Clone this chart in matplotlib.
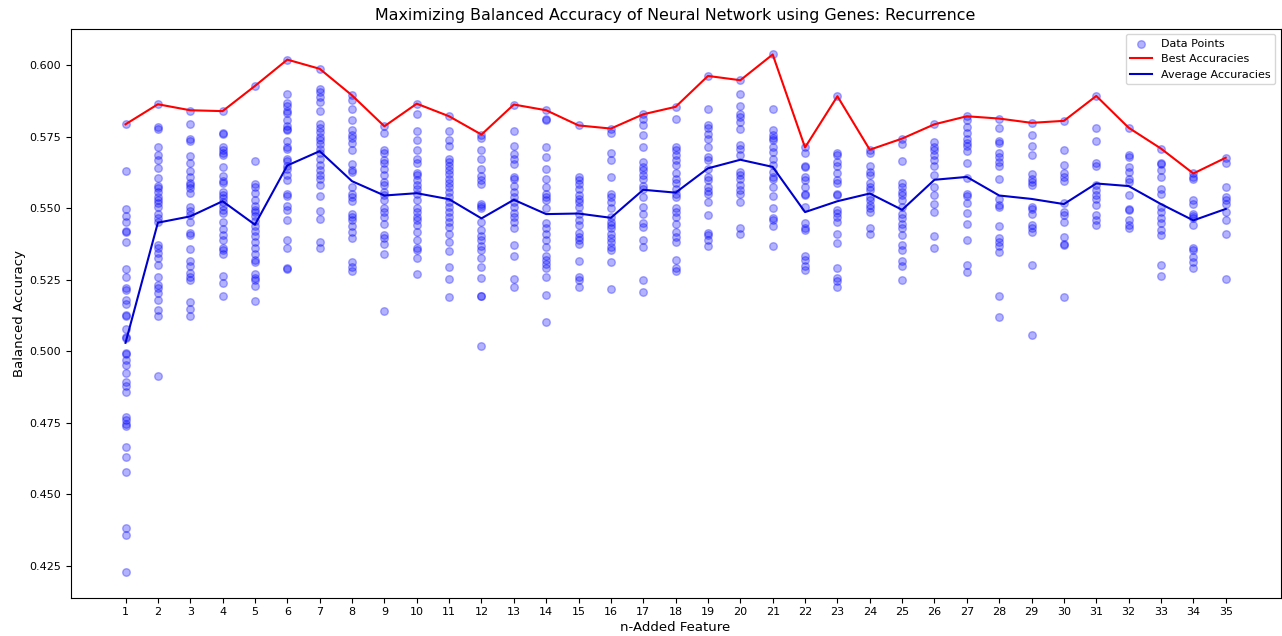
import matplotlib
matplotlib.use("Agg")
import matplotlib.pyplot as plt
import numpy as np

# balanced accuracy of every run, per number of added features
n_features = list(range(1, 36))

runs = [
    [0.5794, 0.563, 0.5497, 0.5474, 0.5452, 0.542, 0.5416, 0.5382, 0.5289, 0.526, 0.522, 0.5215, 0.518, 0.5164,
     0.5124, 0.5127, 0.5078, 0.5051, 0.5048, 0.4994, 0.499, 0.497, 0.4953, 0.4925, 0.4893, 0.488, 0.4858, 0.4771,
     0.476, 0.4745, 0.474, 0.4667, 0.4631, 0.4579, 0.4383, 0.4359, 0.423],
    [0.5864, 0.5784, 0.5777, 0.5713, 0.5686, 0.5668, 0.564, 0.5605, 0.5578, 0.5572, 0.5558, 0.5541, 0.5529, 0.5518,
     0.5505, 0.5482, 0.5466, 0.5453, 0.5372, 0.5361, 0.5343, 0.5326, 0.5302, 0.5261, 0.5232, 0.522, 0.5203, 0.518,
     0.5145, 0.5124, 0.4915],
    [0.584, 0.5794, 0.5742, 0.5735, 0.5683, 0.5657, 0.5631, 0.561, 0.5588, 0.5583, 0.557, 0.5553, 0.5505, 0.549,
     0.5476, 0.5453, 0.5414, 0.5407, 0.5357, 0.5317, 0.5299, 0.5273, 0.5261, 0.525, 0.5172, 0.5148, 0.5124],
    [0.584, 0.5763, 0.5759, 0.5713, 0.5704, 0.5693, 0.5685, 0.5644, 0.5613, 0.5594, 0.5588, 0.5558, 0.5547, 0.5536,
     0.5523, 0.551, 0.5495, 0.5484, 0.5453, 0.5427, 0.5407, 0.5389, 0.5361, 0.5353, 0.534, 0.5264, 0.524, 0.5195],
    [0.5928, 0.5665, 0.5584, 0.5576, 0.5553, 0.553, 0.551, 0.5495, 0.5486, 0.5472, 0.5455, 0.5437, 0.542, 0.5402,
     0.5382, 0.5362, 0.5339, 0.5319, 0.5313, 0.527, 0.5258, 0.525, 0.5227, 0.5177],
    [0.602, 0.5901, 0.5869, 0.5857, 0.5839, 0.5835, 0.5808, 0.5789, 0.5779, 0.5775, 0.5736, 0.5715, 0.5709, 0.5674,
     0.5667, 0.5647, 0.5638, 0.5616, 0.5598, 0.5552, 0.5545, 0.5509, 0.5493, 0.5459, 0.5391, 0.536, 0.5292, 0.5289],
    [0.5988, 0.5918, 0.5907, 0.5889, 0.5872, 0.5839, 0.5796, 0.5782, 0.5767, 0.575, 0.5738, 0.5724, 0.5709, 0.5692,
     0.5674, 0.5651, 0.5633, 0.5616, 0.5601, 0.5581, 0.5543, 0.549, 0.5462, 0.5381, 0.5363],
    [0.5895, 0.588, 0.5849, 0.5808, 0.5773, 0.5758, 0.5746, 0.5727, 0.5703, 0.5654, 0.5633, 0.5628, 0.5575, 0.5552,
     0.554, 0.5525, 0.5482, 0.547, 0.5459, 0.5439, 0.5418, 0.5398, 0.5313, 0.5296, 0.5282],
    [0.5787, 0.5764, 0.5703, 0.5694, 0.5668, 0.5657, 0.5639, 0.5616, 0.5592, 0.5581, 0.5558, 0.5546, 0.5529, 0.55,
     0.5488, 0.547, 0.5447, 0.5407, 0.5395, 0.5377, 0.5342, 0.5141],
    [0.5866, 0.5831, 0.5771, 0.5738, 0.5703, 0.5674, 0.5657, 0.5624, 0.5616, 0.5598, 0.5581, 0.5569, 0.5552, 0.5531,
     0.55, 0.5488, 0.547, 0.5459, 0.5441, 0.5418, 0.5391, 0.5363, 0.5356, 0.5325, 0.5269],
    [0.5822, 0.5771, 0.574, 0.5717, 0.5674, 0.5662, 0.5647, 0.5633, 0.5619, 0.5604, 0.5589, 0.5575, 0.5558, 0.554,
     0.5523, 0.5505, 0.5488, 0.547, 0.5453, 0.5435, 0.5412, 0.5383, 0.5352, 0.5294, 0.5252, 0.5191],
    [0.5758, 0.5747, 0.5705, 0.5674, 0.5639, 0.5612, 0.5598, 0.5584, 0.5517, 0.5509, 0.55, 0.5453, 0.5424, 0.5403,
     0.5389, 0.5368, 0.5354, 0.5325, 0.5296, 0.5257, 0.5194, 0.5192, 0.5019],
    [0.5863, 0.5771, 0.5717, 0.5689, 0.5674, 0.5654, 0.561, 0.5601, 0.5577, 0.5558, 0.554, 0.5523, 0.5505, 0.5485,
     0.547, 0.5453, 0.543, 0.5371, 0.5333, 0.5252, 0.5224],
    [0.5843, 0.5814, 0.5808, 0.5713, 0.5678, 0.5639, 0.5604, 0.5575, 0.555, 0.554, 0.5531, 0.5503, 0.545, 0.543,
     0.5412, 0.5391, 0.5366, 0.5333, 0.5319, 0.5305, 0.529, 0.5261, 0.5197, 0.5104],
    [0.579, 0.561, 0.5598, 0.5584, 0.5569, 0.5546, 0.5534, 0.5523, 0.5505, 0.5482, 0.5459, 0.5441, 0.5415, 0.5401,
     0.5391, 0.5377, 0.5317, 0.5261, 0.5249, 0.5226],
    [0.5779, 0.5764, 0.5692, 0.5668, 0.561, 0.555, 0.554, 0.5523, 0.55, 0.547, 0.5453, 0.5441, 0.543, 0.5412,
     0.5395, 0.5383, 0.5366, 0.5354, 0.5313, 0.5217],
    [0.5829, 0.5814, 0.579, 0.5758, 0.5713, 0.5662, 0.5645, 0.5633, 0.5616, 0.5601, 0.5577, 0.5566, 0.554, 0.5505,
     0.5482, 0.545, 0.5435, 0.5389, 0.5366, 0.5249, 0.5206],
    [0.5855, 0.5814, 0.5715, 0.5703, 0.5686, 0.5668, 0.5651, 0.5624, 0.5604, 0.5587, 0.5569, 0.5552, 0.554, 0.55,
     0.5488, 0.547, 0.5447, 0.5418, 0.5401, 0.5383, 0.5319, 0.529, 0.528],
    [0.5963, 0.5849, 0.579, 0.5782, 0.5761, 0.5744, 0.5713, 0.568, 0.5668, 0.5639, 0.561, 0.5598, 0.5575, 0.5561,
     0.5552, 0.5523, 0.5476, 0.5415, 0.5407, 0.5389, 0.5368],
    [0.5948, 0.5901, 0.5857, 0.5829, 0.582, 0.5802, 0.5779, 0.5721, 0.5709, 0.5686, 0.5628, 0.5616, 0.5604, 0.5581,
     0.5564, 0.555, 0.5523, 0.543, 0.541],
    [0.6038, 0.5849, 0.5773, 0.5756, 0.5747, 0.5738, 0.5715, 0.5697, 0.5674, 0.5651, 0.5628, 0.561, 0.5601, 0.5575,
     0.5543, 0.55, 0.5465, 0.5459, 0.5438, 0.5368],
    [0.5713, 0.5692, 0.5647, 0.5643, 0.5608, 0.5598, 0.5575, 0.5552, 0.5546, 0.5505, 0.545, 0.5433, 0.5424, 0.5333,
     0.5319, 0.5298, 0.5284],
    [0.5892, 0.5694, 0.5686, 0.5662, 0.5647, 0.5624, 0.5598, 0.5587, 0.5552, 0.5546, 0.5494, 0.5485, 0.547, 0.5453,
     0.5412, 0.538, 0.529, 0.5258, 0.5247, 0.5226],
    [0.5705, 0.5692, 0.5647, 0.5628, 0.5616, 0.5589, 0.5575, 0.5564, 0.554, 0.5529, 0.5511, 0.55, 0.5488, 0.5433,
     0.5412],
    [0.5744, 0.5724, 0.5666, 0.5587, 0.5575, 0.5558, 0.5546, 0.5529, 0.5505, 0.5482, 0.5465, 0.5447, 0.5433, 0.5407,
     0.5371, 0.5356, 0.5317, 0.5298, 0.5249],
    [0.5794, 0.5732, 0.5715, 0.5703, 0.5688, 0.5668, 0.5647, 0.5616, 0.5575, 0.5546, 0.5517, 0.5488, 0.5403, 0.536],
    [0.5822, 0.581, 0.5785, 0.5764, 0.5744, 0.5727, 0.5717, 0.5701, 0.5657, 0.5607, 0.5552, 0.5544, 0.5519, 0.5484,
     0.5447, 0.5391, 0.5302, 0.5278],
    [0.5814, 0.5782, 0.5736, 0.5727, 0.5692, 0.568, 0.5663, 0.5647, 0.5604, 0.5534, 0.5511, 0.5505, 0.5438, 0.5395,
     0.5383, 0.5368, 0.5348, 0.5195, 0.5119],
    [0.5799, 0.5758, 0.5718, 0.5686, 0.562, 0.5604, 0.5593, 0.5581, 0.5505, 0.5499, 0.5482, 0.5441, 0.543, 0.5418,
     0.5302, 0.5057],
    [0.5806, 0.5703, 0.5651, 0.5622, 0.561, 0.5596, 0.5519, 0.5488, 0.5476, 0.5453, 0.54, 0.5377, 0.5371, 0.5189],
    [0.5893, 0.5782, 0.5735, 0.5659, 0.5647, 0.5581, 0.5564, 0.5546, 0.5534, 0.5511, 0.5478, 0.5461, 0.5441],
    [0.5782, 0.5686, 0.568, 0.5643, 0.5627, 0.5604, 0.5593, 0.5546, 0.5499, 0.5494, 0.5459, 0.5441, 0.5433],
    [0.5709, 0.5659, 0.5654, 0.5633, 0.561, 0.5569, 0.5552, 0.5505, 0.5488, 0.5465, 0.545, 0.5426, 0.5406, 0.5302,
     0.5264],
    [0.5622, 0.561, 0.5601, 0.5531, 0.5517, 0.5482, 0.5473, 0.5465, 0.5441, 0.5363, 0.5354, 0.5331, 0.5313, 0.5292],
    [0.5677, 0.5659, 0.5573, 0.554, 0.5531, 0.5515, 0.5488, 0.5459, 0.541, 0.5252],
]

best_acc = [0.5794, 0.5864, 0.5843, 0.5840, 0.5928, 0.6020, 0.5988, 0.5895, 0.5787, 0.5866,
            0.5822, 0.5758, 0.5863, 0.5843, 0.5790, 0.5779, 0.5829, 0.5855, 0.5963, 0.5948,
            0.6038, 0.5713, 0.5892, 0.5705, 0.5744, 0.5794, 0.5822, 0.5814, 0.5799, 0.5806,
            0.5893, 0.5782, 0.5709, 0.5622, 0.5677]

avg_acc = [0.5030, 0.5450, 0.5472, 0.5525, 0.5443, 0.5650, 0.5700, 0.5595, 0.5545, 0.5553,
           0.5532, 0.5465, 0.5530, 0.5480, 0.5482, 0.5467, 0.5565, 0.5555, 0.5640, 0.5670,
           0.5645, 0.5487, 0.5525, 0.5552, 0.5495, 0.5600, 0.5610, 0.5545, 0.5533, 0.5515,
           0.5587, 0.5578, 0.5515, 0.5458, 0.5498]

xs = []
ys = []
for n, vals in zip(n_features, runs):
    xs += [n] * len(vals)
    ys += vals

fig = plt.figure(figsize=(12.82, 6.36), dpi=100)
ax = fig.add_axes([0.055, 0.0605, 0.944, 0.8945])

ax.scatter(xs, ys, color='blue', alpha=0.3, s=30, label='Data Points')
ax.plot(n_features, best_acc, color='red', label='Best Accuracies')
ax.plot(n_features, avg_acc, color='mediumblue', label='Average Accuracies')

ax.set_xticks(n_features)
ax.tick_params(labelsize=8)
ax.set_xlabel('n-Added Feature', fontsize=9.5, labelpad=3)
ax.set_ylabel('Balanced Accuracy', fontsize=9.5, labelpad=2)
ax.set_title('Maximizing Balanced Accuracy of Neural Network using Genes: Recurrence', fontsize=11.4)
ax.legend(loc='upper right', fontsize=8)

fig.savefig('out.png', dpi=100)
